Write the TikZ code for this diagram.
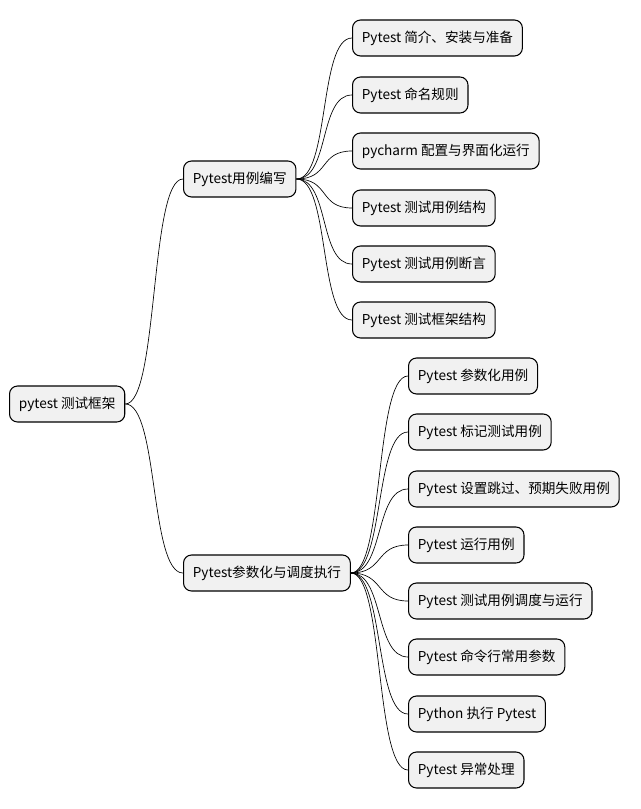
\documentclass[tikz,border=0pt]{standalone}
\usepackage{fontspec}
\setmainfont{Noto Sans CJK SC}
\begin{document}
\begin{tikzpicture}[x=0.75pt,y=-0.75pt,
  mm/.style={draw=black,fill={rgb,255:red,241;green,241;blue,241},rounded corners=6pt,line width=0.8pt,
    anchor=west,minimum height=27pt,inner xsep=7pt,font=\fontsize{10.2pt}{12pt}\selectfont},
  link/.style={line width=0.5pt}]
\useasboundingbox (0,0) rectangle (640,809);
\node[mm] (r) at (9,404) {pytest 测试框架};
\node[mm] (a) at (183,179) {Pytest用例编写};
\node[mm] (b) at (183,573) {Pytest参数化与调度执行};
\node[mm] (a1) at (352,38) {Pytest 简介、安装与准备};
\node[mm] (a2) at (352,95) {Pytest 命名规则};
\node[mm] (a3) at (352,151) {pycharm 配置与界面化运行};
\node[mm] (a4) at (352,208) {Pytest 测试用例结构};
\node[mm] (a5) at (352,264) {Pytest 测试用例断言};
\node[mm] (a6) at (352,320) {Pytest 测试框架结构};
\node[mm] (b1) at (408,376) {Pytest 参数化用例};
\node[mm] (b2) at (408,432) {Pytest 标记测试用例};
\node[mm] (b3) at (408,489) {Pytest 设置跳过、预期失败用例};
\node[mm] (b4) at (408,545) {Pytest 运行用例};
\node[mm] (b5) at (408,601) {Pytest 测试用例调度与运行};
\node[mm] (b6) at (408,657) {Pytest 命令行常用参数};
\node[mm] (b7) at (408,714) {Python 执行 Pytest};
\node[mm] (b8) at (408,770) {Pytest 异常处理};
\foreach \p/\c in {r/a,r/b}{
  \draw[link] (\p.east) .. controls ([xshift=25pt]\p.east) and ([xshift=-25pt]\c.west) .. (\c.west);}
\foreach \c in {a1,a2,a3,a4,a5,a6}{
  \draw[link] (a.east) .. controls ([xshift=25pt]a.east) and ([xshift=-25pt]\c.west) .. (\c.west);}
\foreach \c in {b1,b2,b3,b4,b5,b6,b7,b8}{
  \draw[link] (b.east) .. controls ([xshift=25pt]b.east) and ([xshift=-25pt]\c.west) .. (\c.west);}
\end{tikzpicture}
\end{document}
